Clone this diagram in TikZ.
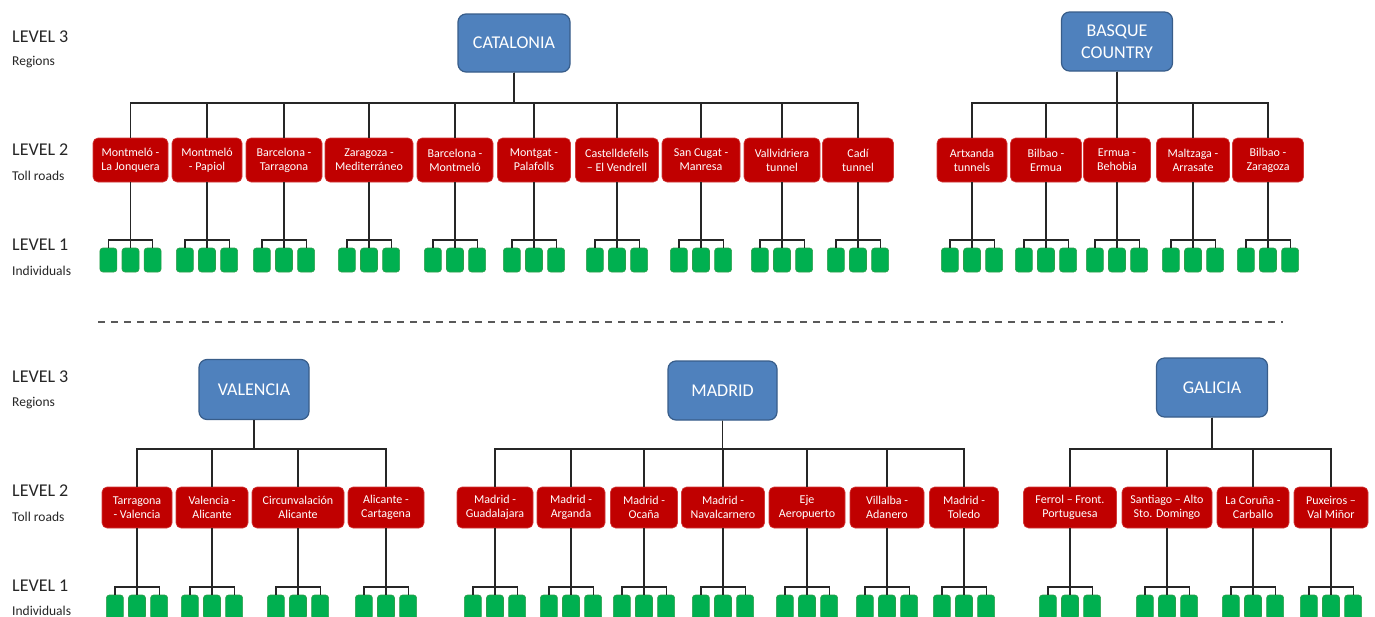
\documentclass[tikz,border=0pt]{standalone}
\usepackage{fontspec}
\setmainfont{Carlito}
\usetikzlibrary{positioning}

\definecolor{regionblue}{HTML}{4F81BD}
\definecolor{regionedge}{HTML}{385D8A}
\definecolor{roadred}{HTML}{C00000}
\definecolor{roadedge}{HTML}{D23A3A}
\definecolor{indivgreen}{HTML}{00B050}
\definecolor{indivedge}{HTML}{2E9E4A}
\definecolor{labelgray}{HTML}{262626}

\tikzset{
  region/.style={draw=regionedge, line width=1.2pt, fill=regionblue, rounded corners=8pt,
    text=white, align=center, font=\fontsize{18}{22}\selectfont, inner sep=0pt},
  road/.style={draw=roadedge, line width=0.6pt, fill=roadred, rounded corners=5pt,
    text=white, align=center, font=\fontsize{12}{14}\selectfont, inner sep=0pt},
  indiv/.style={draw=indivedge, line width=0.6pt, fill=indivgreen, rounded corners=3pt,
    minimum width=17pt, minimum height=24pt, inner sep=0pt},
  link/.style={draw=black!85, line width=1.2pt},
  lvl/.style={anchor=base west, inner sep=0pt, text=labelgray, font=\fontsize{18}{20}\selectfont},
  lvlsub/.style={anchor=base west, inner sep=0pt, text=labelgray, font=\fontsize{13.5}{15}\selectfont},
}

\begin{document}
\begin{tikzpicture}[x=1pt, y=-1pt]

\fill[white] (0,0) rectangle (1375,616);
\useasboundingbox (0,0) rectangle (1375,616);

% level labels
\node[lvl] (l3top) at (12,42) {LEVEL 3};
\node[lvlsub] (l3topsub) at (12,65) {Regions};
\node[lvl] (l2top) at (12,155) {LEVEL 2};
\node[lvlsub] (l2topsub) at (12,180) {Toll roads};
\node[lvl] (l1top) at (12,250) {LEVEL 1};
\node[lvlsub] (l1topsub) at (12,275) {Individuals};

\node[lvl] (l3bot) at (12,382) {LEVEL 3};
\node[lvlsub] (l3botsub) at (12,406) {Regions};
\node[lvl] (l2bot) at (12,496) {LEVEL 2};
\node[lvlsub] (l2botsub) at (12,521) {Toll roads};
\node[lvl] (l1bot) at (12,591) {LEVEL 1};
\node[lvlsub] (l1botsub) at (12,615) {Individuals};

% regions
\node[region, minimum width=112pt, minimum height=58pt] (cat) at (514,43) {CATALONIA};
\node[region, minimum width=111pt, minimum height=59pt] (bas) at (1117,41.5) {BASQUE\\COUNTRY};
\node[region, minimum width=110pt, minimum height=60pt] (val) at (254,389.5) {VALENCIA};
\node[region, minimum width=109pt, minimum height=59pt] (mad) at (722.5,390.5) {MADRID};
\node[region, minimum width=111pt, minimum height=59pt] (gal) at (1212,387.5) {GALICIA};

% toll roads, Catalonia
\node[road, minimum width=75pt, minimum height=44pt] (cat1) at (130.5,160) {Montmeló -\\La Jonquera};
\node[road, minimum width=70pt, minimum height=44pt] (cat2) at (207,160) {Montmeló\\- Papiol};
\node[road, minimum width=76pt, minimum height=44pt] (cat3) at (284,160) {Barcelona -\\Tarragona};
\node[road, minimum width=88pt, minimum height=44pt] (cat4) at (369,160) {Zaragoza -\\Mediterráneo};
\node[road, minimum width=76pt, minimum height=44pt] (cat5) at (455,160) {Barcelona -\\Montmeló};
\node[road, minimum width=73pt, minimum height=44pt] (cat6) at (534,160) {Montgat -\\Palafolls};
\node[road, minimum width=83pt, minimum height=44pt] (cat7) at (617,160) {Castelldefells\\– El Vendrell};
\node[road, minimum width=78pt, minimum height=44pt] (cat8) at (701,160) {San Cugat -\\Manresa};
\node[road, minimum width=76pt, minimum height=44pt] (cat9) at (782,160) {Vallvidriera\\tunnel};
\node[road, minimum width=71pt, minimum height=44pt] (cat10) at (858,160) {Cadí\\tunnel};

% toll roads, Basque Country
\node[road, minimum width=70pt, minimum height=44pt] (bas1) at (972,160) {Artxanda\\tunnels};
\node[road, minimum width=71pt, minimum height=44pt] (bas2) at (1046,160) {Bilbao -\\Ermua};
\node[road, minimum width=67pt, minimum height=44pt] (bas3) at (1117,160) {Ermua -\\Behobia};
\node[road, minimum width=73pt, minimum height=44pt] (bas4) at (1193,160) {Maltzaga -\\Arrasate};
\node[road, minimum width=71pt, minimum height=44pt] (bas5) at (1268,160) {Bilbao -\\Zaragoza};

% toll roads, Valencia
\node[road, minimum width=70pt, minimum height=41pt] (val1) at (137,507.5) {Tarragona\\- Valencia};
\node[road, minimum width=72pt, minimum height=41pt] (val2) at (212,507.5) {Valencia -\\Alicante};
\node[road, minimum width=92pt, minimum height=41pt] (val3) at (298,507.5) {Circunvalación\\Alicante};
\node[road, minimum width=76pt, minimum height=41pt] (val4) at (386,507.5) {Alicante -\\Cartagena};

% toll roads, Madrid
\node[road, minimum width=76pt, minimum height=41pt] (mad1) at (495,507.5) {Madrid -\\Guadalajara};
\node[road, minimum width=68pt, minimum height=41pt] (mad2) at (571,507.5) {Madrid -\\Arganda};
\node[road, minimum width=67pt, minimum height=41pt] (mad3) at (644,507.5) {Madrid -\\Ocaña};
\node[road, minimum width=83pt, minimum height=41pt] (mad4) at (723,507.5) {Madrid -\\Navalcarnero};
\node[road, minimum width=76pt, minimum height=41pt] (mad5) at (807,507.5) {Eje\\Aeropuerto};
\node[road, minimum width=74pt, minimum height=41pt] (mad6) at (887,507.5) {Villalba -\\Adanero};
\node[road, minimum width=69pt, minimum height=41pt] (mad7) at (964,507.5) {Madrid -\\Toledo};

% toll roads, Galicia
\node[road, minimum width=93pt, minimum height=41pt] (gal1) at (1070,507.5) {Ferrol – Front.\\Portuguesa};
\node[road, minimum width=90pt, minimum height=41pt] (gal2) at (1167,507.5) {Santiago – Alto\\Sto. Domingo};
\node[road, minimum width=72pt, minimum height=41pt] (gal3) at (1253,507.5) {La Coruña -\\Carballo};
\node[road, minimum width=74pt, minimum height=41pt] (gal4) at (1331,507.5) {Puxeiros –\\Val Miñor};

% bus heights
\coordinate (topbus) at (0,103);
\coordinate (botbus) at (0,449);
\coordinate (toprow) at (0,260);
\coordinate (topibus) at (0,240);
\coordinate (botrow) at (0,607);
\coordinate (botibus) at (0,587);

% region -> toll road
\foreach \i in {1,...,10}
  \draw[link] (cat.south) -- (cat.south |- topbus) -| (cat\i.north);
\foreach \i in {1,...,5}
  \draw[link] (bas.south) -- (bas.south |- topbus) -| (bas\i.north);
\foreach \i in {1,...,4}
  \draw[link] (val.south) -- (val.south |- botbus) -| (val\i.north);
\foreach \i in {1,...,7}
  \draw[link] (mad.south) -- (mad.south |- botbus) -| (mad\i.north);
\foreach \i in {1,...,4}
  \draw[link] (gal.south) -- (gal.south |- botbus) -| (gal\i.north);

% individuals, top half
\foreach \r in {cat1,cat2,cat3,cat4,cat5,cat6,cat7,cat8,cat9,cat10,bas1,bas2,bas3,bas4,bas5} {
  \node[indiv] (\r-b) at (\r.south |- toprow) {};
  \node[indiv, left=4.5pt of \r-b] (\r-a) {};
  \node[indiv, right=4.5pt of \r-b] (\r-c) {};
  \draw[link] (\r.south) -- (\r-b.north);
  \draw[link] (\r-a.north) -- (\r-a.north |- topibus) -| (\r-c.north);
}

% individuals, bottom half
\foreach \r in {val1,val2,val3,val4,mad1,mad2,mad3,mad4,mad5,mad6,mad7,gal1,gal2,gal3,gal4} {
  \node[indiv] (\r-b) at (\r.south |- botrow) {};
  \node[indiv, left=4.5pt of \r-b] (\r-a) {};
  \node[indiv, right=4.5pt of \r-b] (\r-c) {};
  \draw[link] (\r.south) -- (\r-b.north);
  \draw[link] (\r-a.north) -- (\r-a.north |- botibus) -| (\r-c.north);
}

% separator
\draw[black!65, line width=2pt, dash pattern=on 7pt off 6pt] (98,321.5) -- (1283,321.5);

\end{tikzpicture}
\end{document}
